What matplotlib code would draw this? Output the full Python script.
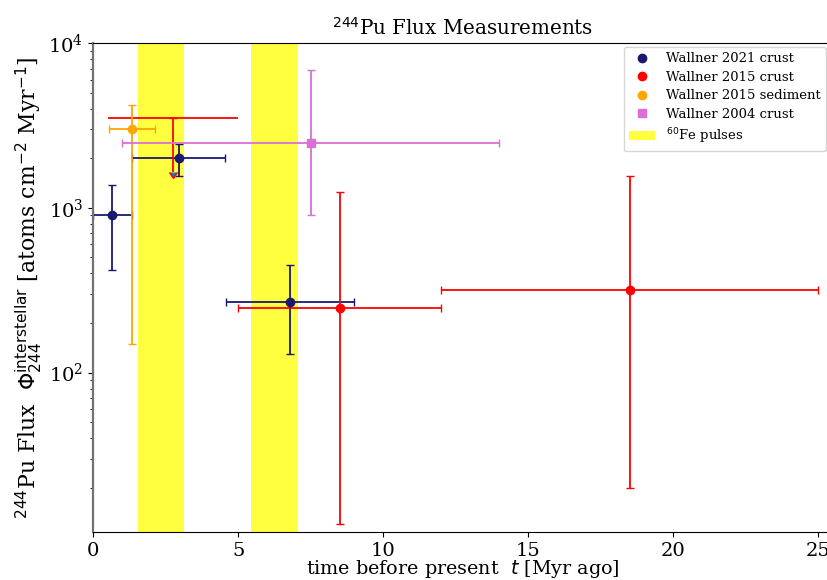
import numpy as np
import matplotlib.pyplot as plt
from matplotlib.lines import Line2D
from matplotlib.patches import Patch

plt.rcParams['font.family'] = 'DejaVu Serif'

# Wallner 2021 crust
w21_t = [0.67, 2.95, 6.78]
w21_terr = [0.67, 1.6, 2.2]
w21_flux = [900, 2000, 270]
w21_lo = [480, 440, 141]
w21_hi = [480, 440, 180]

# Wallner 2015 crust
w15_t = [8.5, 18.5]
w15_terr = [3.5, 6.5]
w15_flux = [248, 319]
w15_lo = [236, 299]
w15_hi = [1008, 1251]

# Wallner 2015 crust, upper limit
w15_lim_t = [2.75]
w15_lim_terr = [2.25]
w15_lim_flux = [3510]
w15_lim_drop = [1850]

# Wallner 2015 sediment
sed_t = [1.35]
sed_terr = [0.8]
sed_flux = [3000]
sed_lo = [2851]
sed_hi = [1210]

# Wallner 2004 crust
w04_t = [7.5]
w04_terr = [6.5]
w04_flux = [2470]
w04_lo = [1560]
w04_hi = [4370]

# 60Fe pulses (start, end) in Myr
fe_pulses = [(1.55, 3.15), (5.45, 7.05)]

c21 = 'midnightblue'
c15 = 'red'
csed = 'orange'
c04 = 'orchid'

fig = plt.figure(figsize=(8.28, 5.8), dpi=100)
ax = fig.add_axes([93/828, 1 - 532/580, 740/828, (532 - 43)/580])

for a, b in fe_pulses:
    ax.axvspan(a, b, color='yellow', alpha=0.75, lw=0, zorder=0)

ax.errorbar(w21_t, w21_flux, xerr=w21_terr, yerr=[w21_lo, w21_hi],
            fmt='o', color=c21, ms=6, capsize=3, elinewidth=1.3)
ax.errorbar(w15_t, w15_flux, xerr=w15_terr, yerr=[w15_lo, w15_hi],
            fmt='o', color=c15, ms=6, capsize=3, elinewidth=1.3)
ax.errorbar(w15_lim_t, w15_lim_flux, xerr=w15_lim_terr,
            fmt='none', ecolor=c15, capsize=0, elinewidth=1.3)
ax.errorbar(w15_lim_t, w15_lim_flux, yerr=w15_lim_drop, uplims=True,
            fmt='none', ecolor=c15, capsize=3, elinewidth=1.3)
ax.errorbar(sed_t, sed_flux, xerr=sed_terr, yerr=[sed_lo, sed_hi],
            fmt='o', color=csed, ms=6, capsize=3, elinewidth=1.3)
ax.errorbar(w04_t, w04_flux, xerr=w04_terr, yerr=[w04_lo, w04_hi],
            fmt='s', color=c04, ms=6, capsize=3, elinewidth=1.3)

ax.set_yscale('log')
ax.set_xlim(0, 25.5)
ax.set_ylim(10.8, 1e4)
ax.set_xticks([0, 5, 10, 15, 20, 25])
ax.tick_params(labelsize=14)
ax.spines['left'].set_color('0.45')
ax.spines['left'].set_linewidth(1.6)

ax.set_title(r'$^{244}$Pu Flux Measurements', fontsize=14.3)
ax.set_xlabel(r'time before present  $t$ [Myr ago]', fontsize=13.8, labelpad=-1)
ax.set_ylabel(r'$^{244}$Pu Flux  $\Phi_{244}^{\rm interstellar}$ [atoms cm$^{-2}$ Myr$^{-1}$]',
              fontsize=15.8, labelpad=2)

handles = [
    Line2D([], [], ls='none', marker='o', color=c21, ms=6),
    Line2D([], [], ls='none', marker='o', color=c15, ms=6),
    Line2D([], [], ls='none', marker='o', color=csed, ms=6),
    Line2D([], [], ls='none', marker='s', color=c04, ms=6),
    Patch(facecolor='yellow', alpha=0.75, lw=0),
]
labels = ['Wallner 2021 crust', 'Wallner 2015 crust', 'Wallner 2015 sediment',
          'Wallner 2004 crust', r'$^{60}$Fe pulses']
ax.legend(handles, labels, loc='upper right', fontsize=9.5, labelspacing=0.42,
          borderaxespad=0, bbox_to_anchor=(0.9905, 0.992))

fig.savefig('out.png', dpi=100)
